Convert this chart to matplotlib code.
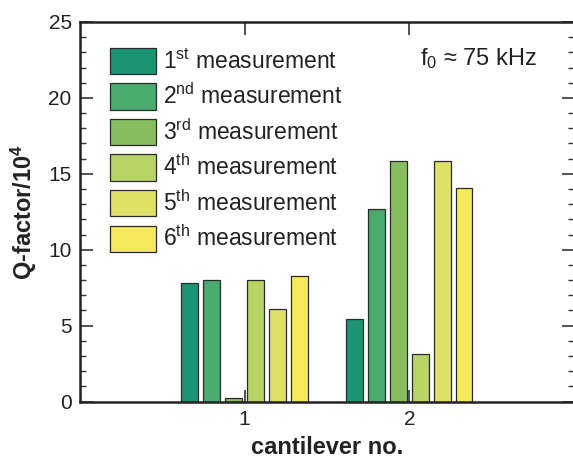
import numpy as np
import matplotlib
matplotlib.use('Agg')
import matplotlib.pyplot as plt

plt.rcParams['font.family'] = ['Liberation Sans', 'DejaVu Sans']
plt.rcParams['mathtext.fontset'] = 'custom'
plt.rcParams['mathtext.rm'] = 'Liberation Sans'
plt.rcParams['mathtext.it'] = 'Liberation Sans:italic'
plt.rcParams['mathtext.bf'] = 'Liberation Sans:bold'

# data (Q-factor / 10^4)
cantilevers = [1, 2]
suffixes = ['st', 'nd', 'rd', 'th', 'th', 'th']
meas_1 = [7.8, 5.45]
meas_2 = [8.0, 12.65]
meas_3 = [0.2, 15.85]
meas_4 = [8.0, 3.15]
meas_5 = [6.1, 15.85]
meas_6 = [8.3, 14.05]
series = [meas_1, meas_2, meas_3, meas_4, meas_5, meas_6]
colors = ['#1b9474', '#4aa96d', '#87bd5f', '#b8d366', '#dfe166', '#f5e95c']

fig = plt.figure(figsize=(5.73, 4.63), dpi=100)
ax = fig.add_axes([0.1396, 0.1328, 0.8620, 0.8197])

step = 0.133
width = 0.103
x = np.array(cantilevers, dtype=float)
for i, vals in enumerate(series):
    ax.bar(x + (i - 2.5) * step, vals, width=width, color=colors[i],
           edgecolor='#2a2a2a', linewidth=0.9,
           label=r'%d$^{\mathrm{%s}}$ measurement' % (i + 1, suffixes[i]))

ax.set_xlim(0, 3)
ax.set_ylim(0, 25)
ax.set_xticks(cantilevers)
ax.set_yticks(range(0, 26, 5))
ax.set_yticks(range(0, 26), minor=True)
ax.tick_params(axis='both', which='major', direction='in', length=9, width=1.2,
               labelsize=15, top=True, right=True, color='#333333', pad=6,
               labelcolor='#222222')
ax.tick_params(axis='y', which='minor', direction='in', length=4.5, width=1.0,
               right=True, color='#333333')
ax.tick_params(axis='x', which='minor', bottom=False, top=False)
for s in ax.spines.values():
    s.set_linewidth(1.8)
    s.set_color('#222222')

ax.set_xlabel('cantilever no.', fontsize=17, fontweight='bold', labelpad=5,
              color='#222222')
ax.set_ylabel(r'Q-factor/10$^{\mathbf{4}}$', fontsize=17, fontweight='bold',
              labelpad=7, color='#222222')

leg = ax.legend(loc='upper left', bbox_to_anchor=(0.061, 0.932), frameon=False,
                fontsize=16.5, borderpad=0, handlelength=2.0, handleheight=1.38,
                labelspacing=0.41, handletextpad=0.3, borderaxespad=0)
for t in leg.get_texts():
    t.set_color('#222222')

ax.text(0.925, 0.887, r'f$_{\mathrm{0}}$ ≈ 75 kHz', transform=ax.transAxes,
        fontsize=17, ha='right', va='baseline', color='#222222')

fig.savefig('out.png', dpi=100)
